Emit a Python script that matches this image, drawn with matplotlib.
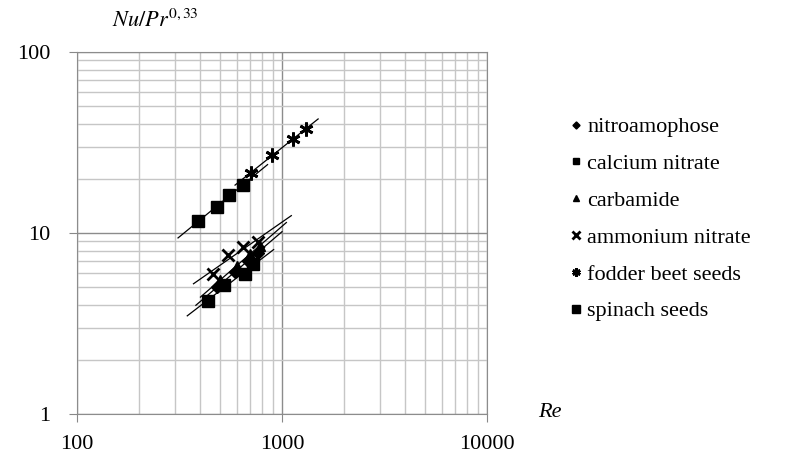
import matplotlib.pyplot as plt
import numpy as np

plt.rcParams['font.family'] = ['Liberation Serif', 'DejaVu Serif']

labels = ['nitroamophose', 'calcium nitrate', 'carbamide',
          'ammonium nitrate', 'fodder beet seeds', 'spinach seeds']
markers = ['D', 's', '^', 'x', (6, 2, 0), 's']
sizes = [6, 8, 7, 9, 10, 9]

# Re values per series
re_nitro = [480, 590, 680, 760]
re_calc = [435, 520, 660, 722]
re_carb = [500, 600, 700, 780]
re_amm = [461, 545, 645, 765]
re_fodder = [706, 894, 1132, 1309]
re_spinach = [389, 482, 551, 645]

# Nu/Pr^0.33 values per series
nu_nitro = [5.0, 6.1, 7.0, 7.8]
nu_calc = [4.2, 5.15, 5.9, 6.75]
nu_carb = [5.5, 6.6, 7.7, 8.5]
nu_amm = [5.9, 7.6, 8.4, 8.9]
nu_fodder = [21.5, 27.0, 33.1, 37.6]
nu_spinach = [11.6, 13.9, 16.2, 18.4]

# extent of the power-law trend lines (Re)
trend_lo = [380, 345, 400, 370, 590, 311]
trend_hi = [1000, 910, 1050, 1110, 1500, 850]

re_all = [re_nitro, re_calc, re_carb, re_amm, re_fodder, re_spinach]
nu_all = [nu_nitro, nu_calc, nu_carb, nu_amm, nu_fodder, nu_spinach]

fig = plt.figure(figsize=(7.92, 4.68), dpi=100)
ax = fig.add_axes([0.0972, 0.1154, 0.5178, 0.7735])

for i in range(len(labels)):
    x = np.array(re_all[i])
    y = np.array(nu_all[i])
    p = np.polyfit(np.log10(x), np.log10(y), 1)
    xs = np.array([trend_lo[i], trend_hi[i]])
    ax.plot(xs, 10 ** np.polyval(p, np.log10(xs)), color='black', lw=0.9)
    ax.plot(x, y, linestyle='none', marker=markers[i], color='black',
            markersize=sizes[i], mew=2 if i in (3, 4) else 1,
            label=labels[i])

ax.set_xscale('log')
ax.set_yscale('log')
ax.set_xlim(100, 10000)
ax.set_ylim(1, 100)
ax.set_xticks([100, 1000, 10000])
ax.set_xticklabels(['100', '1000', '10000'])
ax.set_yticks([1, 10, 100])
ax.set_yticklabels(['1', '10', '100'])
ax.tick_params(which='major', length=6, color='#888888', labelsize=16)
ax.tick_params(which='minor', length=0)
ax.tick_params(axis='x', pad=9)
ax.tick_params(axis='y', pad=13)
ax.grid(which='major', color='#8c8c8c', lw=1)
ax.grid(which='minor', color='#c6c6c6', lw=1)
ax.set_axisbelow(True)
for s in ax.spines.values():
    s.set_color('#8c8c8c')

fig.text(0.142, 0.955, r'$\it{Nu/Pr}^{\it{0,33}}$', fontsize=16,
         ha='left', va='center', math_fontfamily='stix')
fig.text(0.68, 0.118, 'Re', fontsize=16, style='italic', ha='left', va='center')

fig.legend(loc='upper left', bbox_to_anchor=(0.705, 0.774), frameon=False,
           fontsize=16, handlelength=0.6, handletextpad=0.2,
           labelspacing=0.73, markerscale=0.6, borderpad=0)

fig.savefig('out.png', dpi=100)
